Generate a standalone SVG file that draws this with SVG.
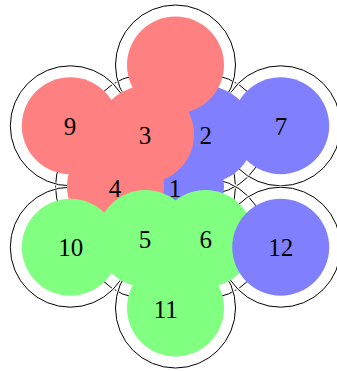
<svg xmlns="http://www.w3.org/2000/svg" width="337" height="371" viewBox="0 0 337 371">
<style>
.halo{fill:none;stroke:#fff;stroke-width:3}
.ring{fill:none;stroke:#000;stroke-width:1}
.red{fill:#ff8080}
.blue{fill:#8080ff}
.green{fill:#80ff80}
text{font-family:"Liberation Serif","Times New Roman",serif;font-size:25px;fill:#000;text-anchor:middle}
</style>
<rect width="337" height="371" fill="#fff"/>
<g id="rings">
<circle class="halo" cx="175.5" cy="186.5" r="60"/><circle class="ring" cx="175.5" cy="186.5" r="60"/>
<circle class="halo" cx="205.5" cy="134.5" r="60"/><circle class="ring" cx="205.5" cy="134.5" r="60"/>
<circle class="halo" cx="145.5" cy="134.5" r="60"/><circle class="ring" cx="145.5" cy="134.5" r="60"/>
<circle class="halo" cx="115.5" cy="186.5" r="60"/><circle class="ring" cx="115.5" cy="186.5" r="60"/>
<circle class="halo" cx="145.5" cy="238.5" r="60"/><circle class="ring" cx="145.5" cy="238.5" r="60"/>
<circle class="halo" cx="205.5" cy="238.5" r="60"/><circle class="ring" cx="205.5" cy="238.5" r="60"/>
<circle class="halo" cx="280.7" cy="125.8" r="60"/><circle class="ring" cx="280.7" cy="125.8" r="60"/>
<circle class="halo" cx="175.5" cy="65" r="60"/><circle class="ring" cx="175.5" cy="65" r="60"/>
<circle class="halo" cx="70.3" cy="125.8" r="60"/><circle class="ring" cx="70.3" cy="125.8" r="60"/>
<circle class="halo" cx="70.3" cy="247.2" r="60"/><circle class="ring" cx="70.3" cy="247.2" r="60"/>
<circle class="halo" cx="175.5" cy="308" r="60"/><circle class="ring" cx="175.5" cy="308" r="60"/>
<circle class="halo" cx="280.7" cy="247.2" r="60"/><circle class="ring" cx="280.7" cy="247.2" r="60"/>
</g>
<g id="node1"><circle class="blue" cx="175.5" cy="186.5" r="48.5"/></g>
<g id="node2"><circle class="blue" cx="205.5" cy="134.5" r="48.5"/></g>
<g id="node3"><circle class="red" cx="145.5" cy="134.5" r="48.5"/></g>
<g id="node4"><circle class="red" cx="115.5" cy="186.5" r="48.5"/></g>
<g id="node5"><circle class="green" cx="145.5" cy="238.5" r="48.5"/></g>
<g id="node6"><circle class="green" cx="205.5" cy="238.5" r="48.5"/></g>
<g id="node7"><circle class="blue" cx="280.7" cy="125.8" r="48.5"/></g>
<g id="node8"><circle class="red" cx="175.5" cy="65" r="48.5"/></g>
<g id="node9"><circle class="red" cx="70.3" cy="125.8" r="48.5"/></g>
<g id="node10"><circle class="green" cx="70.3" cy="247.2" r="48.5"/></g>
<g id="node11"><circle class="green" cx="175.5" cy="308" r="48.5"/></g>
<g id="node12"><circle class="blue" cx="280.7" cy="247.2" r="48.5"/></g>
<g id="labels">
<text x="175" y="196.5">1</text>
<text x="205.7" y="143.5">2</text>
<text x="145" y="143.5">3</text>
<text x="115" y="196.5">4</text>
<text x="145" y="247.5">5</text>
<text x="205.7" y="247.5">6</text>
<text x="281" y="135">7</text>
<text x="70" y="135">9</text>
<text x="70.7" y="255.5">10</text>
<text x="165.7" y="317.5">11</text>
<text x="280.7" y="255.5">12</text>
</g>
</svg>
